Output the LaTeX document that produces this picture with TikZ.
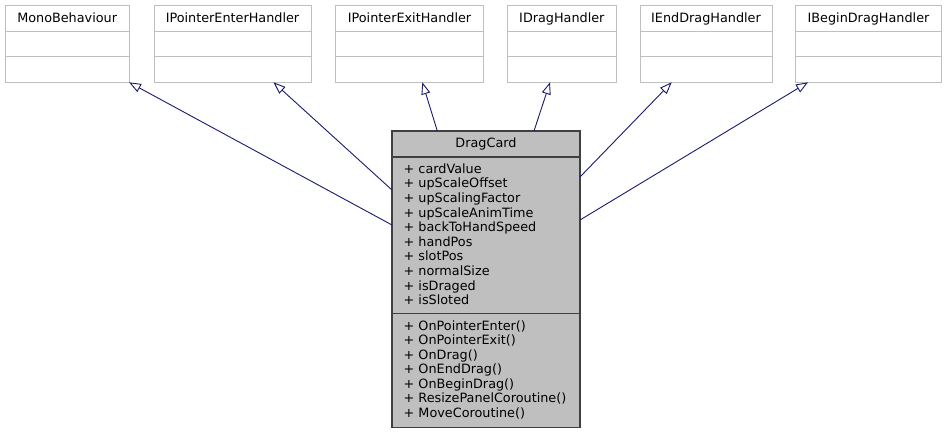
\documentclass[tikz,border=0pt]{standalone}
\usepackage{fontspec}
\setmainfont{DejaVu Sans}
\usetikzlibrary{arrows.meta}
\definecolor{grey75}{HTML}{BFBFBF}
\definecolor{mainedge}{HTML}{404040}
\definecolor{edgeblue}{HTML}{191970}
\begin{document}
\begin{tikzpicture}[x=1pt,y=-1pt,
  boxfont/.style={font=\fontsize{12.8}{14.5}\selectfont},
  extbox/.style={draw=grey75, fill=white, line width=1pt, inner sep=0pt, outer sep=0pt, anchor=north west},
  mainbox/.style={draw=mainedge, fill=grey75, line width=1.1pt, inner sep=0pt, outer sep=0pt, anchor=north west},
  lbl/.style={boxfont, inner sep=0pt, anchor=base},
  mem/.style={boxfont, inner sep=0pt, anchor=base west},
  inherit/.style={draw=edgeblue, line width=0.9pt, -{Triangle[open, length=12pt, width=9pt, fill=white]}}]
\useasboundingbox (0,0) rectangle (947,433);

% external (base) boxes
\foreach \nm/\xa/\xb/\txt in {
  mono/5.3/129/MonoBehaviour,
  penter/154/311/IPointerEnterHandler,
  pexit/335.7/483.3/IPointerExitHandler,
  drag/507.7/616/IDragHandler,
  edrag/640/772/IEndDragHandler,
  bdrag/795.7/941.3/IBeginDragHandler}{
  \node[extbox, minimum width={(\xb-\xa)*1pt}, minimum height=77pt] (\nm) at (\xa,5.3) {};
  \draw[grey75, line width=1pt] (\xa,31.3) -- (\xb,31.3);
  \draw[grey75, line width=1pt] (\xa,56.7) -- (\xb,56.7);
  \node[lbl] (\nm-t) at ({(\xa+\xb)/2},22.5) {\txt};
}

% main class box
\node[mainbox, minimum width=188pt, minimum height=296.3pt] (dc) at (392,131) {};
\draw[mainedge, line width=1.1pt] (392,157) -- (580,157);
\draw[mainedge, line width=1.1pt] (392,313.7) -- (580,313.7);
\node[lbl] (dc-t) at (486,147.5) {DragCard};

\foreach \t [count=\i] in {cardValue, upScaleOffset, upScalingFactor, upScaleAnimTime,
  backToHandSpeed, handPos, slotPos, normalSize, isDraged, isSloted}{
  \node[mem] (a\i) at (403.5,{173.3+(\i-1)*14.6}) {+ \t};
}
\foreach \t [count=\i] in {OnPointerEnter(), OnPointerExit(), OnDrag(), OnEndDrag(),
  OnBeginDrag(), ResizePanelCoroutine(), MoveCoroutine()}{
  \node[mem] (m\i) at (403.5,{330.5+(\i-1)*14.45}) {+ \t};
}

% connection points
\coordinate (s1) at (392,225);
\coordinate (s2) at (392,190);
\coordinate (s3) at (437.3,131);
\coordinate (s4) at (534,131);
\coordinate (s5) at (580,177);
\coordinate (s6) at (580,220);
\coordinate (t1) at (129,82.3);
\coordinate (t2) at (273.5,82.3);
\coordinate (t3) at (422.3,82.3);
\coordinate (t4) at (550,82.3);
\coordinate (t5) at (671.7,82.3);
\coordinate (t6) at (808,82.3);

\draw[inherit] (s1) -- (t1);
\draw[inherit] (s2) -- (t2);
\draw[inherit] (s3) -- (t3);
\draw[inherit] (s4) -- (t4);
\draw[inherit] (s5) -- (t5);
\draw[inherit] (s6) -- (t6);
\end{tikzpicture}
\end{document}
